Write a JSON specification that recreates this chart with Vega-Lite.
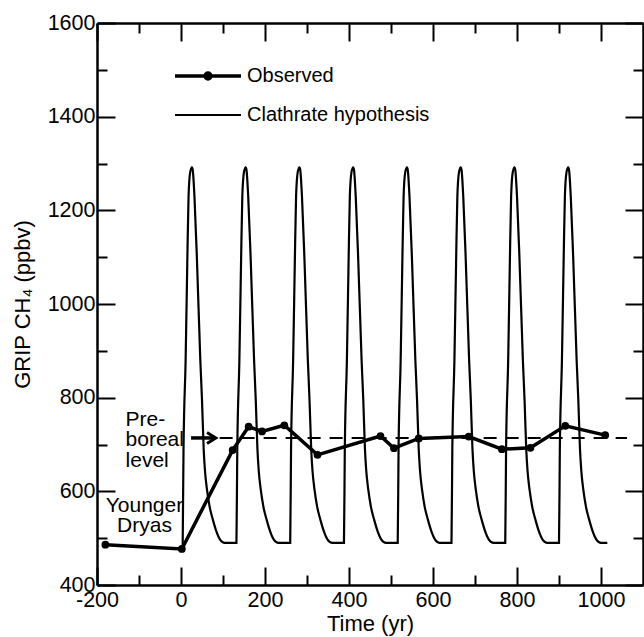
{
  "$schema": "https://vega.github.io/schema/vega-lite/v6.json",
  "width": 546,
  "height": 562,
  "autosize": {"type": "none"},
  "padding": {"left": 97, "top": 23, "right": 1, "bottom": 52},
  "background": "white",
  "config": {
    "view": {"stroke": null},
    "font": "Liberation Sans",
    "axis": {
      "grid": false,
      "domainColor": "black",
      "tickColor": "black",
      "labelColor": "black",
      "titleColor": "black",
      "domainWidth": 2.5,
      "tickWidth": 2,
      "labelFont": "Liberation Sans",
      "titleFont": "Liberation Sans",
      "labelFontSize": 21.5,
      "titleFontSize": 22,
      "titleFontWeight": "normal",
      "labelFlush": false,
      "labelOverlap": false,
      "labelExpr": "'' + datum.value"
    }
  },
  "datasets": {
    "observed": [
      {"t": -180, "ch4": 486, "series": "Observed"},
      {"t": 2, "ch4": 477, "series": "Observed"},
      {"t": 123, "ch4": 688, "series": "Observed"},
      {"t": 161, "ch4": 738, "series": "Observed"},
      {"t": 193, "ch4": 728, "series": "Observed"},
      {"t": 246, "ch4": 741, "series": "Observed"},
      {"t": 325, "ch4": 678, "series": "Observed"},
      {"t": 475, "ch4": 718, "series": "Observed"},
      {"t": 507, "ch4": 692, "series": "Observed"},
      {"t": 566, "ch4": 713, "series": "Observed"},
      {"t": 685, "ch4": 717, "series": "Observed"},
      {"t": 764, "ch4": 690, "series": "Observed"},
      {"t": 832, "ch4": 693, "series": "Observed"},
      {"t": 915, "ch4": 740, "series": "Observed"},
      {"t": 1010, "ch4": 720, "series": "Observed"}
    ],
    "clathrate": [
      {"t": 4, "ch4": 482}, {"t": 6, "ch4": 690}, {"t": 11, "ch4": 880}, {"t": 15, "ch4": 1090}, {"t": 18, "ch4": 1230}, {"t": 22, "ch4": 1282}, {"t": 26, "ch4": 1292}, {"t": 28, "ch4": 1286}, {"t": 32, "ch4": 1230}, {"t": 38, "ch4": 1094}, {"t": 46, "ch4": 880}, {"t": 50, "ch4": 795}, {"t": 54, "ch4": 690}, {"t": 57, "ch4": 645}, {"t": 62, "ch4": 603}, {"t": 68, "ch4": 568}, {"t": 76, "ch4": 539}, {"t": 84, "ch4": 515}, {"t": 93, "ch4": 497}, {"t": 104, "ch4": 490},
      {"t": 132, "ch4": 490}, {"t": 134, "ch4": 690}, {"t": 139, "ch4": 880}, {"t": 143, "ch4": 1090}, {"t": 146, "ch4": 1230}, {"t": 150, "ch4": 1282}, {"t": 154, "ch4": 1292}, {"t": 156, "ch4": 1286}, {"t": 160, "ch4": 1230}, {"t": 166, "ch4": 1094}, {"t": 174, "ch4": 880}, {"t": 178, "ch4": 795}, {"t": 182, "ch4": 690}, {"t": 185, "ch4": 645}, {"t": 190, "ch4": 603}, {"t": 196, "ch4": 568}, {"t": 204, "ch4": 539}, {"t": 212, "ch4": 515}, {"t": 221, "ch4": 497}, {"t": 232, "ch4": 490},
      {"t": 260, "ch4": 490}, {"t": 262, "ch4": 690}, {"t": 267, "ch4": 880}, {"t": 271, "ch4": 1090}, {"t": 274, "ch4": 1230}, {"t": 278, "ch4": 1282}, {"t": 282, "ch4": 1292}, {"t": 284, "ch4": 1286}, {"t": 288, "ch4": 1230}, {"t": 294, "ch4": 1094}, {"t": 302, "ch4": 880}, {"t": 306, "ch4": 795}, {"t": 310, "ch4": 690}, {"t": 313, "ch4": 645}, {"t": 318, "ch4": 603}, {"t": 324, "ch4": 568}, {"t": 332, "ch4": 539}, {"t": 340, "ch4": 515}, {"t": 349, "ch4": 497}, {"t": 360, "ch4": 490},
      {"t": 388, "ch4": 490}, {"t": 390, "ch4": 690}, {"t": 395, "ch4": 880}, {"t": 399, "ch4": 1090}, {"t": 402, "ch4": 1230}, {"t": 406, "ch4": 1282}, {"t": 410, "ch4": 1292}, {"t": 412, "ch4": 1286}, {"t": 416, "ch4": 1230}, {"t": 422, "ch4": 1094}, {"t": 430, "ch4": 880}, {"t": 434, "ch4": 795}, {"t": 438, "ch4": 690}, {"t": 441, "ch4": 645}, {"t": 446, "ch4": 603}, {"t": 452, "ch4": 568}, {"t": 460, "ch4": 539}, {"t": 468, "ch4": 515}, {"t": 477, "ch4": 497}, {"t": 488, "ch4": 490},
      {"t": 516, "ch4": 490}, {"t": 518, "ch4": 690}, {"t": 523, "ch4": 880}, {"t": 527, "ch4": 1090}, {"t": 530, "ch4": 1230}, {"t": 534, "ch4": 1282}, {"t": 538, "ch4": 1292}, {"t": 540, "ch4": 1286}, {"t": 544, "ch4": 1230}, {"t": 550, "ch4": 1094}, {"t": 558, "ch4": 880}, {"t": 562, "ch4": 795}, {"t": 566, "ch4": 690}, {"t": 569, "ch4": 645}, {"t": 574, "ch4": 603}, {"t": 580, "ch4": 568}, {"t": 588, "ch4": 539}, {"t": 596, "ch4": 515}, {"t": 605, "ch4": 497}, {"t": 616, "ch4": 490},
      {"t": 644, "ch4": 490}, {"t": 646, "ch4": 690}, {"t": 651, "ch4": 880}, {"t": 655, "ch4": 1090}, {"t": 658, "ch4": 1230}, {"t": 662, "ch4": 1282}, {"t": 666, "ch4": 1292}, {"t": 668, "ch4": 1286}, {"t": 672, "ch4": 1230}, {"t": 678, "ch4": 1094}, {"t": 686, "ch4": 880}, {"t": 690, "ch4": 795}, {"t": 694, "ch4": 690}, {"t": 697, "ch4": 645}, {"t": 702, "ch4": 603}, {"t": 708, "ch4": 568}, {"t": 716, "ch4": 539}, {"t": 724, "ch4": 515}, {"t": 733, "ch4": 497}, {"t": 744, "ch4": 490},
      {"t": 772, "ch4": 490}, {"t": 774, "ch4": 690}, {"t": 779, "ch4": 880}, {"t": 783, "ch4": 1090}, {"t": 786, "ch4": 1230}, {"t": 790, "ch4": 1282}, {"t": 794, "ch4": 1292}, {"t": 796, "ch4": 1286}, {"t": 800, "ch4": 1230}, {"t": 806, "ch4": 1094}, {"t": 814, "ch4": 880}, {"t": 818, "ch4": 795}, {"t": 822, "ch4": 690}, {"t": 825, "ch4": 645}, {"t": 830, "ch4": 603}, {"t": 836, "ch4": 568}, {"t": 844, "ch4": 539}, {"t": 852, "ch4": 515}, {"t": 861, "ch4": 497}, {"t": 872, "ch4": 490},
      {"t": 900, "ch4": 490}, {"t": 902, "ch4": 690}, {"t": 907, "ch4": 880}, {"t": 911, "ch4": 1090}, {"t": 914, "ch4": 1230}, {"t": 918, "ch4": 1282}, {"t": 922, "ch4": 1292}, {"t": 924, "ch4": 1286}, {"t": 928, "ch4": 1230}, {"t": 934, "ch4": 1094}, {"t": 942, "ch4": 880}, {"t": 946, "ch4": 795}, {"t": 950, "ch4": 690}, {"t": 953, "ch4": 645}, {"t": 958, "ch4": 603}, {"t": 964, "ch4": 568}, {"t": 972, "ch4": 539}, {"t": 980, "ch4": 515}, {"t": 989, "ch4": 497}, {"t": 1000, "ch4": 490},
      {"t": 1015, "ch4": 490}
    ],
    "level": [{"x": 92, "x2": 1062, "y": 714}],
    "arrow": [{"x": 24, "x2": 78, "head": 75, "y": 714}],
    "text1": [{"x": -132, "y": 740, "label": "Pre-\nboreal\nlevel"}],
    "text2": [{"x": -87, "y": 556, "label": "Younger\nDryas"}]
  },
  "layer": [
    {
      "data": {"name": "clathrate"},
      "mark": {"type": "line", "interpolate": "monotone", "strokeWidth": 2.2, "color": "black"},
      "encoding": {
        "x": {"field": "t", "type": "quantitative", "scale": {"domain": [-200, 1100], "nice": false, "zero": false},
          "axis": {"orient": "bottom", "values": [-200, 0, 200, 400, 600, 800, 1000], "tickSize": -18, "labelPadding": 22, "title": "Time (yr)", "titlePadding": 3}},
        "y": {"field": "ch4", "type": "quantitative", "scale": {"domain": [400, 1600], "nice": false, "zero": false},
          "axis": {"orient": "left", "values": [400, 600, 800, 1000, 1200, 1400, 1600], "tickSize": -18, "labelPadding": 20, "title": "GRIP CH₄ (ppbv)", "titlePadding": 13}}
      }
    },
    {
      "data": {"name": "observed"},
      "mark": {"type": "line", "strokeWidth": 3.5, "point": {"filled": true, "size": 60}},
      "encoding": {
        "x": {"field": "t", "type": "quantitative", "scale": {"domain": [-200, 1100], "nice": false, "zero": false}, "axis": null},
        "y": {"field": "ch4", "type": "quantitative", "scale": {"domain": [400, 1600], "nice": false, "zero": false}, "axis": null},
        "color": {"field": "series", "type": "nominal",
          "scale": {"domain": ["Observed", "Clathrate hypothesis"], "range": ["black", "black"]},
          "legend": {
            "orient": "none", "legendX": 101, "legendY": 43, "title": null, "direction": "vertical",
            "symbolType": "stroke", "symbolSize": 4356, "symbolStrokeWidth": 3.5, "symbolStrokeColor": "black",
            "labelFont": "Liberation Sans", "labelFontSize": 20, "labelColor": "black", "labelOffset": 29, "labelLimit": 400, "rowPadding": 19,
            "encode": {"symbols": {"update": {
              "shape": {"signal": "datum.value === 'Observed' ? 'M-1,0H1M-0.09,0A0.09,0.09 0 1,1 0.09,0A0.09,0.09 0 1,1 -0.09,0Z' : 'stroke'"},
              "strokeWidth": {"signal": "datum.value === 'Observed' ? 3.5 : 1.8"},
              "fill": {"value": "black"},
              "stroke": {"value": "black"}
            }}}
          }}
      }
    },
    {
      "data": {"name": "level"},
      "mark": {"type": "rule", "strokeDash": [13, 9], "strokeWidth": 2, "color": "black"},
      "encoding": {
        "x": {"field": "x", "type": "quantitative", "scale": {"domain": [-200, 1100], "nice": false, "zero": false}, "axis": null},
        "x2": {"field": "x2"},
        "y": {"field": "y", "type": "quantitative", "scale": {"domain": [400, 1600], "nice": false, "zero": false}, "axis": null}
      }
    },
    {
      "data": {"name": "arrow"},
      "mark": {"type": "rule", "strokeWidth": 3.5, "color": "black"},
      "encoding": {
        "x": {"field": "x", "type": "quantitative", "scale": {"domain": [-200, 1100], "nice": false, "zero": false}, "axis": null},
        "x2": {"field": "x2"},
        "y": {"field": "y", "type": "quantitative", "scale": {"domain": [400, 1600], "nice": false, "zero": false}, "axis": null}
      }
    },
    {
      "data": {"name": "arrow"},
      "mark": {"type": "point", "shape": "M-1,-1L0.6,0L-1,1", "filled": false, "size": 121, "strokeWidth": 3, "color": "black", "opacity": 1},
      "encoding": {
        "x": {"field": "head", "type": "quantitative", "scale": {"domain": [-200, 1100], "nice": false, "zero": false}, "axis": null},
        "y": {"field": "y", "type": "quantitative", "scale": {"domain": [400, 1600], "nice": false, "zero": false}, "axis": null}
      }
    },
    {
      "data": {"name": "text1"},
      "mark": {"type": "text", "align": "left", "baseline": "alphabetic", "lineBreak": "\n", "lineHeight": 20.5, "font": "Liberation Sans Narrow, Liberation Sans", "fontSize": 21, "color": "black"},
      "encoding": {
        "x": {"field": "x", "type": "quantitative", "scale": {"domain": [-200, 1100], "nice": false, "zero": false}, "axis": null},
        "y": {"field": "y", "type": "quantitative", "scale": {"domain": [400, 1600], "nice": false, "zero": false}, "axis": null},
        "text": {"field": "label"}
      }
    },
    {
      "data": {"name": "text2"},
      "mark": {"type": "text", "align": "center", "baseline": "alphabetic", "lineBreak": "\n", "lineHeight": 20, "font": "Liberation Sans Narrow, Liberation Sans", "fontSize": 21, "color": "black"},
      "encoding": {
        "x": {"field": "x", "type": "quantitative", "scale": {"domain": [-200, 1100], "nice": false, "zero": false}, "axis": null},
        "y": {"field": "y", "type": "quantitative", "scale": {"domain": [400, 1600], "nice": false, "zero": false}, "axis": null},
        "text": {"field": "label"}
      }
    },
    {
      "data": {"name": "level"},
      "mark": {"type": "point", "opacity": 0},
      "encoding": {
        "x": {"field": "x", "type": "quantitative", "scale": {"domain": [-200, 1100], "nice": false, "zero": false},
          "axis": {"orient": "top", "values": [-200, 0, 200, 400, 600, 800, 1000], "tickSize": -18, "labels": false, "title": null}},
        "y": {"field": "y", "type": "quantitative", "scale": {"domain": [400, 1600], "nice": false, "zero": false},
          "axis": {"orient": "right", "values": [400, 600, 800, 1000, 1200, 1400, 1600], "tickSize": -18, "labels": false, "title": null}}
      }
    },
    {
      "data": {"name": "level"},
      "mark": {"type": "point", "opacity": 0},
      "encoding": {
        "x": {"field": "x", "type": "quantitative", "scale": {"domain": [-200, 1100], "nice": false, "zero": false},
          "axis": {"orient": "bottom", "values": [-100, 100, 300, 500, 700, 900], "tickSize": -10, "labels": false, "domain": false, "title": null}},
        "y": {"field": "y", "type": "quantitative", "scale": {"domain": [400, 1600], "nice": false, "zero": false},
          "axis": {"orient": "left", "values": [500, 700, 900, 1100, 1300, 1500], "tickSize": -10, "labels": false, "domain": false, "title": null}}
      }
    },
    {
      "data": {"name": "level"},
      "mark": {"type": "point", "opacity": 0},
      "encoding": {
        "x": {"field": "x", "type": "quantitative", "scale": {"domain": [-200, 1100], "nice": false, "zero": false},
          "axis": {"orient": "top", "values": [-100, 100, 300, 500, 700, 900], "tickSize": -10, "labels": false, "domain": false, "title": null}},
        "y": {"field": "y", "type": "quantitative", "scale": {"domain": [400, 1600], "nice": false, "zero": false},
          "axis": {"orient": "right", "values": [500, 700, 900, 1100, 1300, 1500], "tickSize": -10, "labels": false, "domain": false, "title": null}}
      }
    }
  ],
  "resolve": {"axis": {"x": "independent", "y": "independent"}}
}
